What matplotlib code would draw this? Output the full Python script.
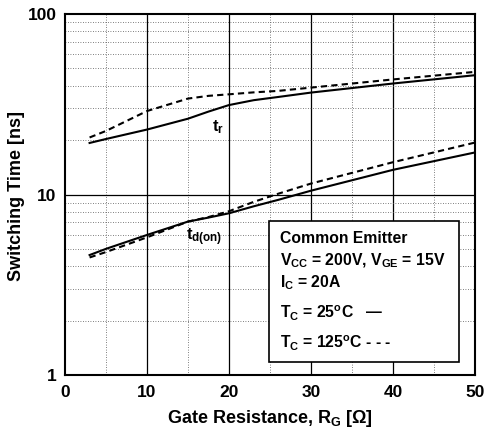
import matplotlib
matplotlib.use("Agg")
import matplotlib.pyplot as plt
from matplotlib.ticker import FixedLocator, NullFormatter
from matplotlib.patches import Rectangle
import matplotlib.transforms as mtrans

plt.rcParams['font.family'] = ['Liberation Sans', 'DejaVu Sans']
plt.rcParams['font.weight'] = 'bold'
plt.rcParams['mathtext.fontset'] = 'custom'
plt.rcParams['mathtext.rm'] = 'Liberation Sans:bold'
plt.rcParams['mathtext.it'] = 'Liberation Sans:bold'
plt.rcParams['mathtext.bf'] = 'Liberation Sans:bold'

# Data
rg = [3, 5, 10, 15, 17.5, 20, 23, 26, 30, 40, 50]
tr_25 = [19.3, 20.3, 22.9, 26.3, 28.8, 31.3, 33.3, 34.7, 36.7, 41.2, 45.8]
tr_125 = [20.7, 22.5, 29.0, 34.0, 35.2, 35.9, 36.8, 37.5, 39.1, 43.4, 47.8]
tdon_25 = [4.62, 5.0, 5.97, 7.08, 7.45, 7.87, 8.6, 9.34, 10.5, 13.7, 17.1]
tdon_125 = [4.48, 4.8, 5.79, 7.08, 7.5, 8.08, 9.1, 10.1, 11.5, 15.1, 19.4]

xticks = [0, 10, 20, 30, 40, 50]
yticks = [1, 10, 100]

fig = plt.figure(figsize=(4.89, 4.32), dpi=100)
ax = fig.add_axes([0.1329, 0.1319, 0.9714 - 0.1329, 0.9676 - 0.1319])
ax.set_yscale('log')
ax.set_xlim(0, 50)
ax.set_ylim(1, 100)

dot = dict(color='#555555', lw=0.6, ls=(0, (1, 2)), zorder=1)
for x in [10, 20, 30, 40]:
    ax.axvline(x, color='black', lw=0.9, zorder=1)
for x in [5, 15, 25, 35, 45]:
    ax.axvline(x, **dot)
ax.axhline(10, color='black', lw=0.9, zorder=1)
for y in [2, 3, 4, 5, 6, 7, 8, 9, 20, 30, 40, 50, 60, 70, 80, 90]:
    ax.axhline(y, **dot)

ax.plot(rg, tr_25, color='black', lw=1.5, zorder=3)
ax.plot(rg, tr_125, color='black', lw=1.5, ls=(0, (3, 2)), zorder=3)
ax.plot(rg, tdon_25, color='black', lw=1.5, zorder=3)
ax.plot(rg, tdon_125, color='black', lw=1.5, ls=(0, (3, 2)), zorder=3)

ax.xaxis.set_major_locator(FixedLocator(xticks))
ax.yaxis.set_major_locator(FixedLocator(yticks))
ax.yaxis.set_minor_locator(FixedLocator([]))
ax.yaxis.set_minor_formatter(NullFormatter())
ax.set_xticklabels([str(v) for v in xticks])
ax.set_yticklabels([str(v) for v in yticks])
ax.tick_params(length=0, labelsize=12.5)
ax.tick_params(axis='x', pad=7)
ax.tick_params(axis='y', pad=6)
for lab in ax.get_xticklabels() + ax.get_yticklabels():
    lab.set_fontweight('bold')
for s in ax.spines.values():
    s.set_linewidth(1.5)

ax.set_xlabel(r'Gate Resistance, R$_{\mathrm{G}}$ [Ω]', fontsize=13, fontweight='bold', labelpad=6)
fig.text(17 / 489, 1 - 196 / 432, 'Switching Time [ns]', fontsize=13, fontweight='bold',
         rotation=90, ha='center', va='center')

ax.text(18.6, 23.5, r't$_{\mathrm{r}}$', fontsize=12, fontweight='bold', ha='center', va='center')
ax.text(14.8, 5.8, r't$_{\mathrm{d(on)}}$', fontsize=12, fontweight='bold', ha='left', va='center')

# annotation box
box_x0, box_x1 = 24.9, 48.1
trans = mtrans.blended_transform_factory(ax.transData, ax.transAxes)
y0 = (432 - 362 - 57) / 361.0
y1 = (432 - 221 - 57) / 361.0
ax.add_patch(Rectangle((box_x0, y0), box_x1 - box_x0, y1 - y0, transform=trans,
                       facecolor='white', edgecolor='black', lw=1.2, zorder=5))
lines = [
    ('Common Emitter', 239),
    (r'V$_{\mathrm{CC}}$ = 200V, V$_{\mathrm{GE}}$ = 15V', 261),
    (r'I$_{\mathrm{C}}$ = 20A', 283),
    (r'T$_{\mathrm{C}}$ = 25$^{\mathrm{o}}$C   —', 313),
    (r'T$_{\mathrm{C}}$ = 125$^{\mathrm{o}}$C - - -', 343),
]
for txt, ypix in lines:
    fig.text(280 / 489, 1 - ypix / 432, txt, fontsize=11.3, fontweight='bold',
             ha='left', va='center', zorder=6)

fig.savefig('out.png', dpi=100)
